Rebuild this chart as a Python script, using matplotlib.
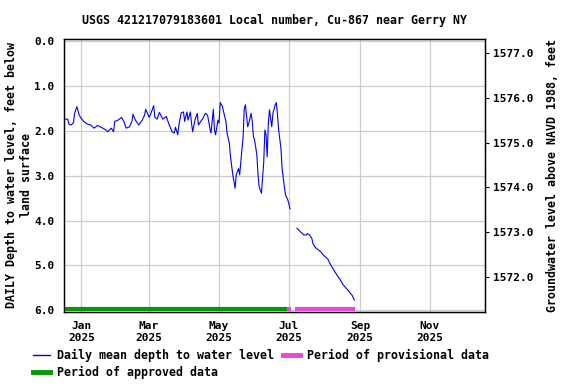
import numpy as np
import matplotlib
matplotlib.use("Agg")
from matplotlib import pyplot as plt, dates as mdates
from matplotlib.lines import Line2D

# days counted from 2025-01-01
days_a = [-14, -12, -11, -9, -7, -6, -4, -2, 0, 2, 5, 8, 11, 14, 17, 20, 23, 26, 28,
          29, 32, 35, 37, 39, 42, 44, 45, 47, 50, 53, 55, 56, 59, 60, 63, 64, 66, 68,
          71, 74, 76, 79, 81, 82, 84, 85, 87, 89, 90, 92, 93, 95, 96, 97, 99, 101, 102,
          104, 106, 108, 110, 112, 113, 115, 116, 117, 119, 120, 121, 123, 124, 126,
          127, 129, 130, 132, 133, 134, 135, 137, 138, 139, 141, 142, 143, 145, 146,
          148, 149, 150, 151, 153, 154, 155, 157, 159, 160, 161, 162, 163, 164, 166,
          167, 169, 170, 171, 172, 174, 175, 177, 178, 180, 182]
depth_a = [1.74, 1.74, 1.85, 1.87, 1.82, 1.61, 1.46, 1.65, 1.73, 1.79, 1.85, 1.87,
           1.94, 1.88, 1.92, 1.96, 2.02, 1.94, 2.02, 1.79, 1.76, 1.70, 1.79, 1.94,
           1.91, 1.79, 1.63, 1.76, 1.87, 1.76, 1.65, 1.52, 1.70, 1.65, 1.44, 1.70,
           1.74, 1.59, 1.74, 1.68, 1.83, 2.02, 2.05, 1.92, 2.09, 1.87, 1.60, 1.58,
           1.79, 1.58, 1.76, 1.58, 1.83, 2.02, 1.76, 1.61, 1.87, 1.79, 1.72, 1.61,
           1.65, 1.94, 2.05, 1.52, 1.98, 2.09, 1.76, 1.83, 1.37, 1.46, 1.58, 1.79,
           2.05, 2.28, 2.58, 2.98, 3.13, 3.28, 2.98, 2.84, 2.98, 2.69, 2.13, 1.50,
           1.42, 1.91, 1.83, 1.61, 1.79, 2.13, 2.20, 2.54, 2.98, 3.25, 3.39, 2.69,
           1.98, 2.09, 2.58, 1.83, 1.53, 1.91, 1.61, 1.42, 1.37, 1.65, 1.98, 2.39,
           2.84, 3.25, 3.43, 3.54, 3.74]
days_b = [188, 191, 194, 196, 197, 199, 201, 202, 204, 207, 209, 211, 213, 215, 217,
          220, 223, 226, 228, 230, 233, 236, 238]
depth_b = [4.17, 4.25, 4.32, 4.32, 4.29, 4.32, 4.40, 4.52, 4.60, 4.66, 4.70, 4.77,
           4.81, 4.86, 4.97, 5.10, 5.22, 5.33, 5.42, 5.48, 5.57, 5.66, 5.77]

approved = [("2024-12-18", "2025-06-29")]
provisional = [("2025-06-29", "2025-07-03"), ("2025-07-06", "2025-08-28")]

datum = 1577.26
title = "USGS 421217079183601 Local number, Cu-867 near Gerry NY"

base = np.datetime64("2025-01-01")
fnt = dict(family="DejaVu Sans Mono", weight="bold", size=8)
big = dict(family="DejaVu Sans Mono", weight="bold", size=8.4)
blue, green, pink = "#0000ff", "#009900", "#ee44dd"

fig = plt.figure(figsize=(5.76, 3.84), dpi=100)
ax = fig.add_axes([0.1116, 0.1883, 0.7304, 0.7094])

ta = base + np.array(days_a).astype("timedelta64[D]")
tb = base + np.array(days_b).astype("timedelta64[D]")
ax.plot(ta, depth_a, color=blue, lw=0.8)
ax.plot(tb, depth_b, color=blue, lw=0.8)

for s, e in approved:
    ax.plot([np.datetime64(s), np.datetime64(e)], [5.98, 5.98], color=green, lw=3,
            solid_capstyle="butt")
for s, e in provisional:
    ax.plot([np.datetime64(s), np.datetime64(e)], [5.98, 5.98], color=pink, lw=3,
            solid_capstyle="butt")

ax.set_xlim(np.datetime64("2024-12-17"), np.datetime64("2025-12-19"))
ax.set_ylim(6.03, -0.04)
ax.set_yticks(np.arange(0, 6.1, 1.0))
ax.set_yticklabels(["%.1f" % v for v in np.arange(0, 6.1, 1.0)], **fnt)
ax.xaxis.set_major_locator(mdates.MonthLocator(bymonth=[1, 3, 5, 7, 9, 11]))
ax.xaxis.set_major_formatter(mdates.DateFormatter("%b\n%Y"))
for lb in ax.get_xticklabels():
    lb.set(**fnt)
ax.tick_params(axis="x", length=0, pad=7)
ax.tick_params(axis="y", length=0, pad=7)
ax.grid(True, color="#cccccc", lw=0.9)
ax.set_axisbelow(True)
for sp in ax.spines.values():
    sp.set_linewidth(1.0)

ax.set_ylabel("DAILY Depth to water level, feet below\nland surface", labelpad=1, **big)
ax.set_title(title, pad=11, **big)

ax2 = ax.twinx()
ax2.set_ylim(datum - 6.03, datum + 0.04)
ticks2 = np.arange(1572.0, 1577.1, 1.0)
ax2.set_yticks(ticks2)
ax2.set_yticklabels(["%.1f" % v for v in ticks2], **fnt)
ax2.tick_params(axis="y", length=3, pad=3)
ax2.set_ylabel("Groundwater level above NAVD 1988, feet", labelpad=9, **big)

handles = [Line2D([], [], color=blue, lw=1),
           Line2D([], [], color=green, lw=3.5),
           Line2D([], [], color=pink, lw=3.5)]
labels = ["Daily mean depth to water level", "Period of approved data",
          "Period of provisional data"]
fig.legend(handles, labels, ncol=2, loc="lower left", bbox_to_anchor=(0.045, -0.005),
           frameon=False, prop=big,
           handlelength=1.5, handletextpad=0.6, columnspacing=0.7, labelspacing=0.35,
           borderaxespad=0.2)

fig.savefig("out.png", dpi=100)
